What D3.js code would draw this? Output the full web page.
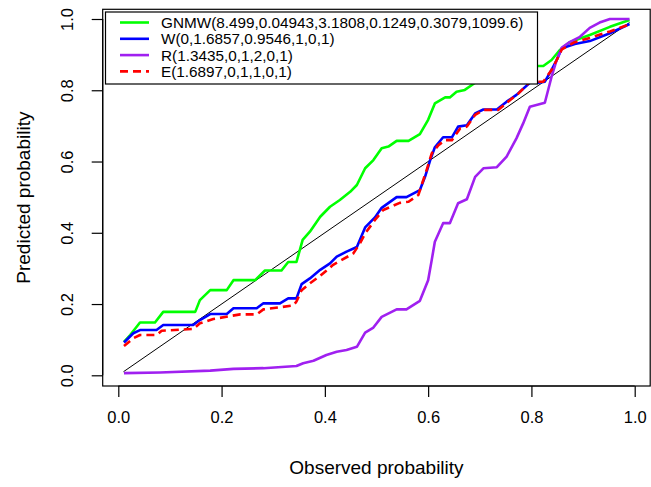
<!DOCTYPE html>
<html><head><meta charset="utf-8">
<script src="https://cdn.jsdelivr.net/npm/d3@7"></script>
<style>body{margin:0;background:#fff}svg{display:block}text{font-family:"Liberation Sans",Arial,sans-serif;fill:#000}</style>
</head><body>
<script>
const xTicks = [0, 0.2, 0.4, 0.6, 0.8, 1.0];
const yTicks = [0, 0.2, 0.4, 0.6, 0.8, 1.0];
const tickLabels = ["0.0", "0.2", "0.4", "0.6", "0.8", "1.0"];
const xTitle = "Observed probability";
const yTitle = "Predicted probability";
const legendLabels = ["GNMW(8.499,0.04943,3.1808,0.1249,0.3079,1099.6)", "W(0,1.6857,0.9546,1,0,1)", "R(1.3435,0,1,2,0,1)", "E(1.6897,0,1,1,0,1)"];

const refX = [0.01, 0.99];
const refY = [0.01, 0.99];

const gnmwX = [0.011,0.023,0.042,0.071,0.087,0.149,0.158,0.178,0.21,0.223,0.265,0.284,0.316,0.329,0.345,0.357,0.371,0.391,0.41,0.429,0.449,0.462,0.478,0.494,0.51,0.523,0.539,0.562,0.584,0.600,0.613,0.633,0.642,0.655,0.671,0.691,0.707,0.733,0.759,0.778,0.80,0.823,0.839,0.855,0.874,0.913,0.952,0.99];
const gnmwY = [0.094,0.113,0.148,0.148,0.178,0.178,0.211,0.239,0.239,0.267,0.267,0.294,0.294,0.318,0.318,0.380,0.403,0.445,0.473,0.492,0.515,0.534,0.581,0.604,0.637,0.642,0.658,0.658,0.677,0.717,0.763,0.780,0.780,0.796,0.801,0.821,0.824,0.824,0.836,0.848,0.868,0.868,0.885,0.913,0.935,0.955,0.978,0.997];

const wX = [0.011,0.029,0.042,0.074,0.087,0.145,0.158,0.178,0.21,0.223,0.268,0.281,0.313,0.329,0.345,0.355,0.371,0.391,0.41,0.423,0.442,0.462,0.478,0.497,0.510,0.539,0.558,0.584,0.594,0.604,0.613,0.629,0.646,0.658,0.675,0.691,0.707,0.733,0.752,0.771,0.797,0.813,0.826,0.839,0.849,0.859,0.884,0.913,0.952,0.99];
const wY = [0.092,0.118,0.127,0.127,0.141,0.141,0.155,0.172,0.172,0.188,0.188,0.202,0.202,0.216,0.216,0.256,0.272,0.296,0.314,0.333,0.347,0.360,0.415,0.443,0.470,0.50,0.50,0.520,0.557,0.604,0.640,0.668,0.668,0.698,0.702,0.735,0.746,0.746,0.768,0.787,0.821,0.821,0.824,0.857,0.885,0.918,0.930,0.938,0.96,0.986];

const rX = [0.011,0.081,0.178,0.223,0.281,0.345,0.358,0.378,0.403,0.423,0.442,0.462,0.478,0.494,0.51,0.539,0.558,0.584,0.600,0.607,0.613,0.629,0.642,0.658,0.675,0.691,0.707,0.733,0.752,0.771,0.784,0.797,0.826,0.839,0.849,0.859,0.874,0.894,0.913,0.932,0.952,0.99];
const rY = [0.006,0.008,0.013,0.018,0.020,0.026,0.034,0.041,0.057,0.066,0.071,0.080,0.120,0.134,0.164,0.185,0.185,0.209,0.267,0.324,0.375,0.427,0.427,0.483,0.494,0.557,0.581,0.584,0.614,0.665,0.707,0.754,0.765,0.838,0.885,0.92,0.935,0.95,0.975,0.99,1.0,1.0];

const eX = [0.011,0.029,0.042,0.074,0.084,0.145,0.158,0.184,0.236,0.268,0.281,0.339,0.345,0.355,0.371,0.391,0.416,0.455,0.468,0.478,0.497,0.513,0.545,0.562,0.581,0.597,0.607,0.620,0.633,0.646,0.662,0.675,0.691,0.707,0.736,0.759,0.775,0.797,0.823,0.839,0.849,0.859,0.884,0.913,0.952,0.99];
const eY = [0.082,0.104,0.113,0.113,0.125,0.13,0.146,0.158,0.171,0.171,0.185,0.196,0.207,0.239,0.258,0.279,0.31,0.342,0.37,0.398,0.436,0.464,0.484,0.487,0.506,0.576,0.623,0.646,0.660,0.660,0.693,0.698,0.731,0.745,0.745,0.773,0.791,0.824,0.824,0.857,0.885,0.915,0.935,0.947,0.965,0.985];

const W = 651, H = 487;
const svg = d3.select("body").append("svg").attr("width", W).attr("height", H);

const x = d3.scaleLinear().domain([0, 1]).range([118.3, 634.7]);
const y = d3.scaleLinear().domain([0, 1]).range([375.3, 19]);
const box = {l: 102.7, r: 650.2, t: 9.3, b: 386};

svg.append("clipPath").attr("id", "clip").append("rect")
  .attr("x", box.l).attr("y", box.t).attr("width", box.r - box.l).attr("height", box.b - box.t);

const line = d3.line().x(d => x(d[0])).y(d => y(d[1]));
const zip = (a, b) => a.map((v, i) => [v, b[i]]);

const series = [
  {x: refX, y: refY, color: "#000000", w: 1, dash: null},
  {x: gnmwX, y: gnmwY, color: "#00FF00", w: 2.6, dash: null},
  {x: wX, y: wY, color: "#0000FF", w: 2.6, dash: null},
  {x: rX, y: rY, color: "#A020F0", w: 2.6, dash: null},
  {x: eX, y: eY, color: "#FF0000", w: 2.6, dash: "8,5"}
];
const g = svg.append("g").attr("clip-path", "url(#clip)");
series.forEach(s => {
  g.append("path").datum(zip(s.x, s.y)).attr("d", line)
    .attr("fill", "none").attr("stroke", s.color).attr("stroke-width", s.w)
    .attr("stroke-dasharray", s.dash).attr("stroke-linejoin", "round");
});

svg.append("rect").attr("x", box.l).attr("y", box.t).attr("width", box.r - box.l).attr("height", box.b - box.t)
  .attr("fill", "none").attr("stroke", "#000").attr("stroke-width", 1.2);

const xAxis = d3.axisBottom(x).tickValues(xTicks).tickSize(11).tickPadding(14)
  .tickFormat((d, i) => tickLabels[i]);
const gx = svg.append("g").attr("transform", `translate(0,${box.b})`).call(xAxis);
gx.select(".domain").attr("d", `M${x(0)},0H${x(1)}`).attr("stroke-width", 1.2);
gx.selectAll(".tick line").attr("stroke-width", 1.2);
gx.selectAll("text").attr("font-size", 16.5).attr("font-family", "Liberation Sans, Arial, sans-serif");

const yAxis = d3.axisLeft(y).tickValues(yTicks).tickSize(11).tickPadding(0)
  .tickFormat((d, i) => tickLabels[i]);
const gy = svg.append("g").attr("transform", `translate(${box.l},0)`).call(yAxis);
gy.select(".domain").attr("d", `M0,${y(0)}V${y(1)}`).attr("stroke-width", 1.2);
gy.selectAll(".tick line").attr("stroke-width", 1.2);
gy.selectAll("text").attr("font-size", 16.5).attr("font-family", "Liberation Sans, Arial, sans-serif")
  .attr("x", null).attr("dy", null)
  .attr("text-anchor", "middle")
  .attr("transform", "translate(-36,0) rotate(-90)")
  .attr("dominant-baseline", "central");

svg.append("text").attr("x", (box.l + box.r) / 2).attr("y", 474)
  .attr("text-anchor", "middle").attr("font-size", 19).text(xTitle);
svg.append("text").attr("transform", `translate(30,${(box.t + box.b) / 2}) rotate(-90)`)
  .attr("text-anchor", "middle").attr("font-size", 19).text(yTitle);

const lg = svg.append("g");
lg.append("rect").attr("x", 105.5).attr("y", 12).attr("width", 432).attr("height", 72)
  .attr("fill", "#fff").attr("stroke", "#000").attr("stroke-width", 1.2);
const legColors = ["#00FF00", "#0000FF", "#A020F0", "#FF0000"];
const legDash = [null, null, null, "8,5"];
legendLabels.forEach((t, i) => {
  const cy = 22.5 + i * 16.3;
  lg.append("line").attr("x1", 120).attr("x2", 149).attr("y1", cy).attr("y2", cy)
    .attr("stroke", legColors[i]).attr("stroke-width", 2.6).attr("stroke-dasharray", legDash[i]);
  lg.append("text").attr("x", 161).attr("y", cy).attr("dominant-baseline", "central")
    .attr("font-size", 15.3).text(t);
});
</script>
</body></html>
